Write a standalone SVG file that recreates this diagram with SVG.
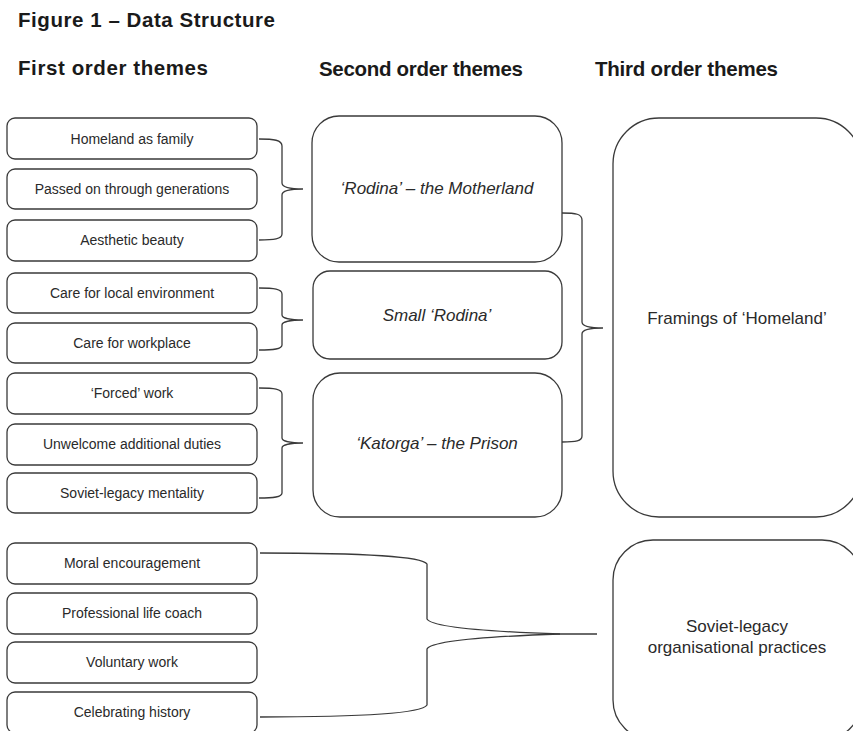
<svg xmlns="http://www.w3.org/2000/svg" width="853" height="731" viewBox="0 0 853 731">
<style>
.hdr{font-family:"Liberation Sans",Arial,sans-serif;font-weight:bold;font-size:20.5px;fill:#1a1a1a}
.box{fill:#fff;stroke:#3a3a3a;stroke-width:1.3}
.t1{font-family:"Liberation Sans",Arial,sans-serif;font-size:14px;fill:#2a2a2a;text-anchor:middle}
.t2{font-family:"Liberation Sans",Arial,sans-serif;font-size:17px;font-style:italic;fill:#2a2a2a;text-anchor:middle}
.t3{font-family:"Liberation Sans",Arial,sans-serif;font-size:17px;fill:#2a2a2a;text-anchor:middle}
.con{fill:none;stroke:#3a3a3a;stroke-width:1.3}
</style>
<rect width="853" height="731" fill="#fff"/>
<g id="headers">
<text class="hdr" x="18" y="27" textLength="257">Figure 1 – Data Structure</text>
<text class="hdr" x="18" y="75" textLength="190">First order themes</text>
<text class="hdr" x="319" y="76" textLength="204">Second order themes</text>
<text class="hdr" x="595" y="76" textLength="183">Third order themes</text>
</g>
<g id="f1"><rect class="box" x="7" y="118" width="250" height="41" rx="8"/><text class="t1" x="132" y="143.5">Homeland as family</text></g>
<g id="f2"><rect class="box" x="7" y="169" width="250" height="40" rx="8"/><text class="t1" x="132" y="194">Passed on through generations</text></g>
<g id="f3"><rect class="box" x="7" y="220" width="250" height="41" rx="8"/><text class="t1" x="132" y="245">Aesthetic beauty</text></g>
<g id="f4"><rect class="box" x="7" y="273" width="250" height="40" rx="8"/><text class="t1" x="132" y="298">Care for local environment</text></g>
<g id="f5"><rect class="box" x="7" y="323" width="250" height="40" rx="8"/><text class="t1" x="132" y="348">Care for workplace</text></g>
<g id="f6"><rect class="box" x="7" y="373" width="250" height="41" rx="8"/><text class="t1" x="132" y="398">‘Forced’ work</text></g>
<g id="f7"><rect class="box" x="7" y="424" width="250" height="41" rx="8"/><text class="t1" x="132" y="449">Unwelcome additional duties</text></g>
<g id="f8"><rect class="box" x="7" y="473" width="250" height="40" rx="8"/><text class="t1" x="132" y="498">Soviet-legacy mentality</text></g>
<g id="f9"><rect class="box" x="7" y="543" width="250" height="41" rx="8"/><text class="t1" x="132" y="568">Moral encouragement</text></g>
<g id="f10"><rect class="box" x="7" y="593" width="250" height="41" rx="8"/><text class="t1" x="132" y="618">Professional life coach</text></g>
<g id="f11"><rect class="box" x="7" y="642" width="250" height="41" rx="8"/><text class="t1" x="132" y="667">Voluntary work</text></g>
<g id="f12"><rect class="box" x="7" y="692" width="250" height="41" rx="8"/><text class="t1" x="132" y="717">Celebrating history</text></g>
<g id="s1"><rect class="box" x="312" y="116" width="250" height="146" rx="27"/><text class="t2" x="437" y="194">‘Rodina’ – the Motherland</text></g>
<g id="s2"><rect class="box" x="313" y="271" width="249" height="88" rx="17"/><text class="t2" x="437" y="321">Small ‘Rodina’</text></g>
<g id="s3"><rect class="box" x="313" y="373" width="249" height="144" rx="27"/><text class="t2" x="437" y="449">‘Katorga’ – the Prison</text></g>
<g id="r1"><rect class="box" x="613" y="118" width="249" height="399" rx="46"/><text class="t3" x="737" y="324">Framings of ‘Homeland’</text></g>
<g id="r2"><rect class="box" x="613" y="540" width="249" height="200" rx="40"/><text class="t3" x="737" y="632">Soviet-legacy</text><text class="t3" x="737" y="653">organisational practices</text></g>
<g id="connectors">
<path class="con" d="M259,139 C274,139 282,140 282,146 L282,183 C282,187 290,189 303,189 C290,189 282,191 282,195 L282,234 C282,239 274,240 259,240"/>
<path class="con" d="M259,288 C274,288 282,289 282,294 L282,315 C282,318 290,320 303,320 C290,320 282,322 282,325 L282,345 C282,349 274,350 259,350"/>
<path class="con" d="M259,388 C274,388 282,389 282,394 L282,438 C282,441 290,443 303,443 C290,443 282,445 282,448 L282,493 C282,497 274,498 259,498"/>
<path class="con" d="M562,213 C576,213 582,214 582,220 L582,322 C582,326 590,328 603,328 C590,328 582,330 582,334 L582,436 C582,441 576,442 562,442"/>
<path class="con" d="M260,553 C360,553 422,556 427,564 L427,619 C432,628 500,632 560,634 L597,634"/>
<path class="con" d="M260,717 C360,717 422,713 427,705 L427,649 C432,640 500,636 560,634"/>
</g>
</svg>
